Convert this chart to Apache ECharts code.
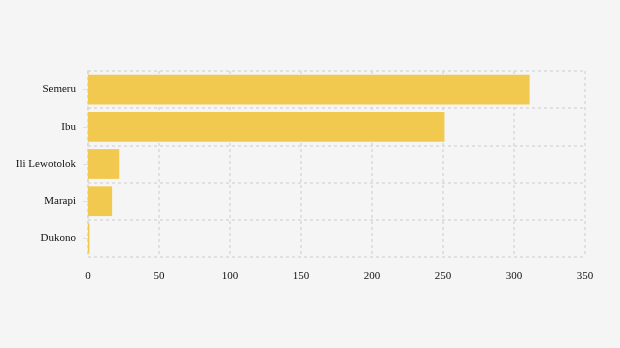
<!DOCTYPE html>
<html><head><meta charset="utf-8">
<script src="https://cdn.jsdelivr.net/npm/echarts@6/dist/echarts.min.js"></script>
<style>html,body{margin:0;padding:0;background:#f5f5f5;}#c{width:620px;height:348px;}</style>
</head><body><div id="c"></div>
<script>
var categories = ["Semeru", "Ibu", "Ili Lewotolok", "Marapi", "Dukono"];
var values = [311, 251, 22, 17, 1];
var xTicks = [0, 50, 100, 150, 200, 250, 300, 350];

var chart = echarts.init(document.getElementById('c'), null, {renderer: 'canvas'});
var font = '"Liberation Serif", "DejaVu Serif", serif';
chart.setOption({
  backgroundColor: '#f5f5f5',
  animation: false,
  grid: {left: 88, right: 35, top: 71, bottom: 91, containLabel: false},
  xAxis: {
    type: 'value', min: 0, max: 350, interval: 50,
    axisLine: {show: false},
    axisTick: {show: false},
    axisLabel: {color: '#111', fontFamily: font, fontSize: 11, margin: 14,
      formatter: function(v){ return xTicks.indexOf(v) >= 0 ? String(v) : ''; }},
    splitLine: {show: true, lineStyle: {color: '#d9d9d9', type: [3, 3], width: 1.5}}
  },
  yAxis: {
    type: 'category', inverse: true, data: categories,
    axisLine: {show: true, lineStyle: {color: '#d9d9d9', type: [3, 3], width: 1.5}},
    axisTick: {show: true, length: 5, lineStyle: {color: '#e0e0e0'}, alignWithLabel: true},
    axisLabel: {color: '#111', fontFamily: font, fontSize: 11, margin: 12},
    splitLine: {show: true, lineStyle: {color: '#d9d9d9', type: [3, 3], width: 1.5}},
    boundaryGap: true
  },
  series: [{
    type: 'bar', data: values, barCategoryGap: '20%',
    itemStyle: {color: '#f2c94f'}
  }]
});
</script></body></html>
